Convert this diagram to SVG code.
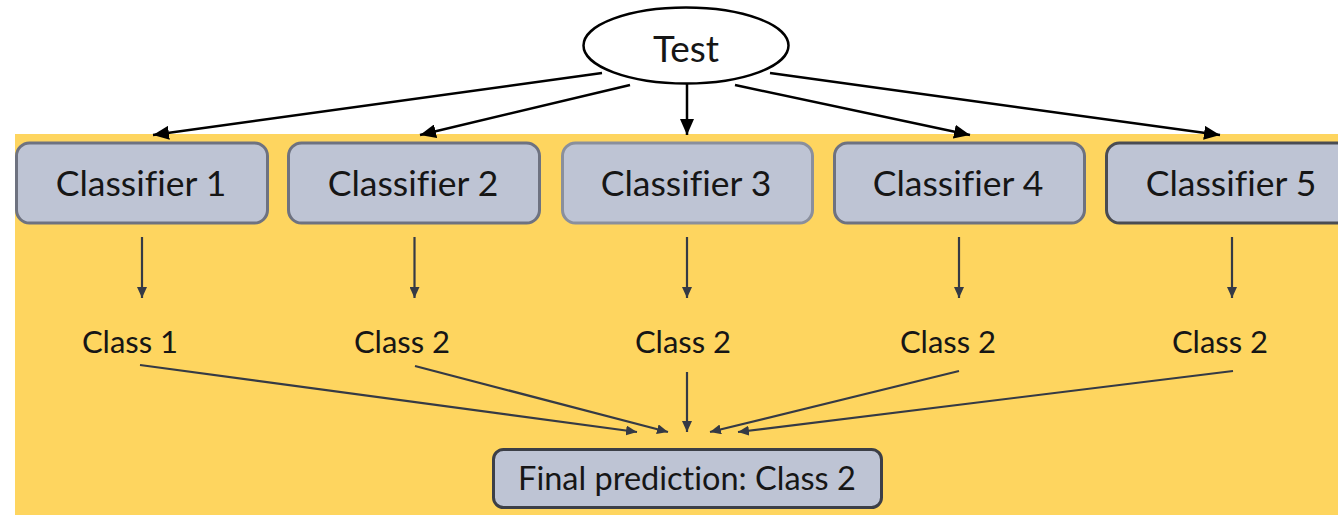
<svg xmlns="http://www.w3.org/2000/svg" width="1338" height="515" viewBox="0 0 1338 515">
  <style>
    .lbl { font-family: Lato, "Open Sans", "Liberation Sans", sans-serif; fill: #161616; text-anchor: middle; font-variant-ligatures: none; }
    .clf rect { fill: #bec4d4; stroke: #6e7280; stroke-width: 3; }
    .clf text { font-size: 35.5px; }
    .cls text { font-size: 31px; }
    .top { stroke: #000; stroke-width: 2.5; fill: none; }
    .low { stroke: #353a45; stroke-width: 2.2; fill: none; }
  </style>
  <defs>
    <marker id="headBig" markerUnits="userSpaceOnUse" markerWidth="17" markerHeight="14" refX="16" refY="7" orient="auto">
      <path d="M0,0 L16,7 L0,14 z" fill="#000"/>
    </marker>
    <marker id="headSmall" markerUnits="userSpaceOnUse" markerWidth="12" markerHeight="10" refX="11" refY="5" orient="auto">
      <path d="M0,0 L11,5 L0,10 z" fill="#353a45"/>
    </marker>
  </defs>

  <!-- white page -->
  <rect x="0" y="0" width="1338" height="515" fill="#ffffff"/>
  <!-- yellow panel -->
  <rect x="15" y="134" width="1330" height="390" fill="#fed55f"/>

  <!-- Test node -->
  <g id="test">
    <ellipse cx="686" cy="45.5" rx="102.5" ry="38" fill="#ffffff" stroke="#000" stroke-width="2.5"/>
    <text class="lbl" x="686" y="62" font-size="37" fill="#000">Test</text>
  </g>

  <!-- Classifier nodes -->
  <g id="classifier1" class="clf">
    <rect x="16.5" y="143" width="251" height="80" rx="13"/>
    <text class="lbl" x="141" y="196">Classifier 1</text>
  </g>
  <g id="classifier2" class="clf">
    <rect x="288.5" y="143" width="251" height="80" rx="13"/>
    <text class="lbl" x="413" y="196">Classifier 2</text>
  </g>
  <g id="classifier3" class="clf">
    <rect x="562.5" y="143" width="250" height="80" rx="13" style="stroke:#8a8f9c"/>
    <text class="lbl" x="686" y="196">Classifier 3</text>
  </g>
  <g id="classifier4" class="clf">
    <rect x="834.5" y="143" width="250" height="80" rx="13"/>
    <text class="lbl" x="958" y="196">Classifier 4</text>
  </g>
  <g id="classifier5" class="clf">
    <rect x="1106.5" y="143" width="251" height="80" rx="13" style="stroke:#4a4c52"/>
    <text class="lbl" x="1231" y="196">Classifier 5</text>
  </g>

  <!-- Class outputs -->
  <g id="class-out1" class="cls"><text class="lbl" x="130" y="353">Class 1</text></g>
  <g id="class-out2" class="cls"><text class="lbl" x="402" y="353">Class 2</text></g>
  <g id="class-out3" class="cls"><text class="lbl" x="683" y="353">Class 2</text></g>
  <g id="class-out4" class="cls"><text class="lbl" x="948" y="353">Class 2</text></g>
  <g id="class-out5" class="cls"><text class="lbl" x="1220" y="353">Class 2</text></g>

  <!-- Final prediction -->
  <g id="final">
    <rect x="493.5" y="449.5" width="388" height="58" rx="10" fill="#bec4d4" stroke="#3c3f47" stroke-width="3"/>
    <text class="lbl" x="687" y="490" font-size="32.5">Final prediction: Class 2</text>
  </g>

  <!-- Connectors -->
  <g id="connectors">
    <line class="top" x1="602" y1="73" x2="153" y2="135" marker-end="url(#headBig)"/>
    <line class="top" x1="630" y1="85" x2="420" y2="135" marker-end="url(#headBig)"/>
    <line class="top" x1="687" y1="84" x2="687" y2="135" marker-end="url(#headBig)"/>
    <line class="top" x1="735" y1="85" x2="970" y2="135" marker-end="url(#headBig)"/>
    <line class="top" x1="770" y1="73" x2="1220" y2="135" marker-end="url(#headBig)"/>

    <line class="low" x1="142" y1="237" x2="142" y2="298" marker-end="url(#headSmall)"/>
    <line class="low" x1="414.5" y1="237" x2="414.5" y2="298" marker-end="url(#headSmall)"/>
    <line class="low" x1="687" y1="237" x2="687" y2="298" marker-end="url(#headSmall)"/>
    <line class="low" x1="959" y1="237" x2="959" y2="298" marker-end="url(#headSmall)"/>
    <line class="low" x1="1232" y1="237" x2="1232" y2="298" marker-end="url(#headSmall)"/>

    <line class="low" x1="140" y1="365" x2="637" y2="432" marker-end="url(#headSmall)"/>
    <line class="low" x1="415" y1="366" x2="668" y2="432" marker-end="url(#headSmall)"/>
    <line class="low" x1="687" y1="372" x2="687" y2="432" marker-end="url(#headSmall)"/>
    <line class="low" x1="959" y1="371" x2="710" y2="432" marker-end="url(#headSmall)"/>
    <line class="low" x1="1233" y1="371" x2="738" y2="432" marker-end="url(#headSmall)"/>
  </g>
</svg>
